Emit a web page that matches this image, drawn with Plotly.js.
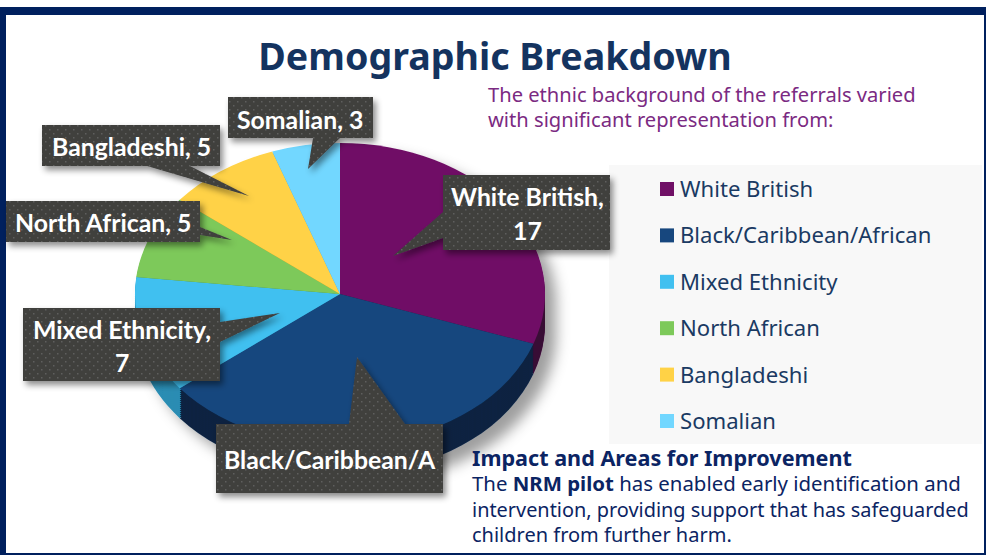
<!DOCTYPE html>
<html><head><meta charset="utf-8">
<script src="https://cdn.plot.ly/plotly-3.0.1.min.js"></script>
<style>html,body{margin:0;padding:0;background:#fff}#c{width:986px;height:555px}</style></head>
<body><div id="c"></div>
<script>
const categories = ["White British","Black/Caribbean/African","Mixed Ethnicity","North African","Bangladeshi","Somalian"];
const referrals = [17,19,7,5,5,3];
const topColors = ["#701066","#17477e","#41c0f0","#7dc95a","#ffd246","#72d7ff"];
const sideColors = ["#3a0a36","#0b2442","#2a8db3","#4f8a38","#b8962f","#4a9dbd"];

const W = 986, H = 555;
const px = x => x / W, py = y => 1 - y / H;
const depthOffsets = [30,28,26,24,22,20,18,16,14,12,10,8,6,4,2];
const pieCy = 294, tilt = 151 / 205;

const pieBase = {type:"pie", labels:categories, values:referrals, sort:false, direction:"clockwise",
  rotation:0, textinfo:"none", hoverinfo:"label+value", showlegend:false,
  domain:{x:[135/W,545/W], y:[0,1]}};
const data = depthOffsets.map(() => Object.assign({}, pieBase, {marker:{colors:sideColors,line:{width:0}}}));
data.push(Object.assign({}, pieBase, {marker:{colors:topColors,line:{width:0}}}));

const calloutFont = {family:"Lato, sans-serif", size:24.8, color:"#ffffff", weight:700};
const callouts = [
  {lines:["White British,","17"], cx:527, ys:[197,230], pts:[[443,175],[610,175],[610,250],[443,250],[443,238],[393,256],[443,212]]},
  {lines:["Black/Caribbean/A"], cx:330, ys:[459], pts:[[216,424],[349,424],[357,357],[405,424],[443,424],[443,493],[216,493]]},
  {lines:["Mixed Ethnicity,","7"], cx:122, ys:[329,362], pts:[[23,308],[220,308],[220,322],[280,313],[220,342],[220,381],[23,381]]},
  {lines:["North African, 5"], cx:103, ys:[222], pts:[[6,201],[200,201],[200,227],[232,240],[200,235],[200,242],[6,242]]},
  {lines:["Bangladeshi, 5"], cx:131, ys:[146], pts:[[42,125],[220,125],[220,166],[190,166],[249,196],[147,166],[42,166]]},
  {lines:["Somalian, 3"], cx:300, ys:[119], pts:[[228,97],[373,97],[373,138],[340,138],[308,169],[313,138],[228,138]]}
];
const calloutFill = "#3f3f3e";

const shapes = [
  {type:"rect", xref:"paper", yref:"paper", layer:"below", x0:px(609), x1:px(982), y0:py(444), y1:py(165), fillcolor:"#f8f8f8", line:{width:0}},
  {type:"rect", xref:"paper", yref:"paper", layer:"below", x0:0, x1:1, y0:py(15), y1:py(7), fillcolor:"#00205e", line:{width:0}},
  {type:"rect", xref:"paper", yref:"paper", layer:"below", x0:0, x1:px(6), y0:0, y1:py(7), fillcolor:"#00205e", line:{width:0}},
  {type:"rect", xref:"paper", yref:"paper", layer:"below", x0:px(984), x1:1, y0:0, y1:py(7), fillcolor:"#00205e", line:{width:0}},
  {type:"rect", xref:"paper", yref:"paper", layer:"below", x0:0, x1:1, y0:0, y1:py(553), fillcolor:"#00205e", line:{width:0}}
];
const annotations = [];
const text = (t,x,y,font,extra) => annotations.push(Object.assign({text:t, xref:"paper", yref:"paper", x:px(x), y:py(y),
  xanchor:"left", yanchor:"middle", align:"left", showarrow:false, font, borderpad:0}, extra||{}));

callouts.forEach(c => {
  shapes.push({type:"path", xref:"paper", yref:"paper", layer:"above", fillcolor:calloutFill, line:{width:0},
    path:c.pts.map((p,i)=>(i?"L":"M")+px(p[0])+" "+py(p[1])).join(" ")+" Z"});
  c.lines.forEach((l,i)=>text(l,c.cx,c.ys[i],calloutFont,{xanchor:"center"}));
});

const legendFont = {family:"Noto Sans, sans-serif", size:22.1, color:"#1a3a63"};
categories.forEach((cat,i) => {
  const y = 189 + i * 46.4;
  shapes.push({type:"rect", xref:"paper", yref:"paper", layer:"below", x0:px(660), x1:px(674), y0:py(y+7), y1:py(y-7), fillcolor:topColors[i], line:{width:0}});
  text(cat,679,y-1,legendFont);
});

const sized = (s,size) => `<span style="font-size:${size}px">${s}</span>`;
const introLines = ["The ethnic background of the referrals varied","with significant representation from:"];
text(introLines.map(l=>sized(l,20.15)).join("<br>"),487,106,{family:"Noto Sans, sans-serif", size:19.6, color:"#7b2a82"});

const noteLines = ["<b>Impact and Areas for Improvement</b>",
 "The <b>NRM pilot</b> has enabled early identification and",
 "intervention, providing support that has safeguarded",
 "children from further harm."];
const noteSizes = [21.6,20.4,19.9,20];
text(noteLines.map((l,i)=>sized(l,noteSizes[i])).join("<br>"),471,495.5,{family:"Noto Sans, sans-serif", size:19.6, color:"#0b2463"});

const layout = {
  width:W, height:H, margin:{l:0,r:0,t:0,b:0}, paper_bgcolor:"#ffffff", showlegend:false,
  title:{text:"<b>Demographic Breakdown</b>", x:495/W, xanchor:"center", y:py(57), yanchor:"middle",
    font:{family:"Noto Sans, sans-serif", size:37.6, color:"#14335f"}},
  shapes, annotations
};

Plotly.newPlot("c", data, layout, {displayModeBar:false, responsive:false}).then(() => {
  const root = document.getElementById("c");
  const svg = root.querySelector(".main-svg");
  const NS = "http://www.w3.org/2000/svg";
  let defs = svg.querySelector("defs");
  defs.insertAdjacentHTML("beforeend", `
    <pattern xmlns="${NS}" id="dots" width="8" height="8" patternUnits="userSpaceOnUse">
      <rect width="8" height="8" fill="#3f3f3e"/>
      <rect x="1" y="1" width="1.5" height="1.5" fill="#5e5e5d"/>
      <rect x="5" y="5" width="1.5" height="1.5" fill="#5e5e5d"/>
    </pattern>
    <filter xmlns="${NS}" id="softShadow" x="-30%" y="-30%" width="160%" height="160%">
      <feDropShadow dx="3" dy="4" stdDeviation="3" flood-color="#000" flood-opacity="0.45"/>
    </filter>
    <filter xmlns="${NS}" id="pieShadow" filterUnits="userSpaceOnUse" x="0" y="0" width="${W}" height="${H}">
      <feDropShadow dx="11" dy="10" stdDeviation="7" flood-color="#000" flood-opacity="0.38"/>
    </filter>`);
  root.querySelectorAll(".pielayer g.trace").forEach((g,i) => {
    const off = i < depthOffsets.length ? depthOffsets[i] : 0;
    g.setAttribute("transform", `translate(0,${pieCy+off}) scale(1,${tilt}) translate(0,${-H/2})`);
  });
  root.querySelector(".pielayer").setAttribute("filter","url(#pieShadow)");
  root.querySelectorAll(".shapelayer path").forEach(p => {
    if (p.style.fill === "rgb(63, 63, 62)") {
      p.style.fill = "url(#dots)";
      p.setAttribute("filter","url(#softShadow)");
    }
  });
});
</script></body></html>
